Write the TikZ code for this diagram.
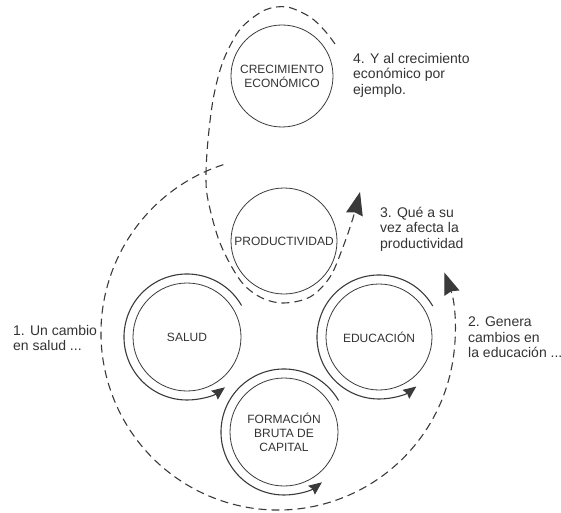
\documentclass[tikz,border=0pt]{standalone}
\usepackage{fontspec}
\setmainfont{Liberation Sans}
\usetikzlibrary{arrows.meta,calc}
\definecolor{ink}{HTML}{3A3A3A}
\definecolor{txt}{HTML}{333333}
\begin{document}
\begin{tikzpicture}[x=1pt,y=1pt,
  bubble/.style={circle,draw=ink,line width=0.8pt,minimum size=106pt,inner sep=0pt,align=center,text=txt,font=\fontsize{12}{14}\selectfont},
  ring/.style={draw=ink,line width=1.1pt,-{Stealth[length=13pt,width=11pt,inset=1.5pt]}},
  loopline/.style={draw=ink,line width=1.1pt,dash pattern=on 8pt off 5pt},
  lbl/.style={anchor=north west,inner sep=0pt,align=left,text=txt,font=\fontsize{14}{15.5}\selectfont}]
\useasboundingbox (0,0) rectangle (561,512);

% circles
\node[bubble,minimum size=102pt] (crec) at (282,436) {CRECIMIENTO\\ECONÓMICO};
\node[bubble] (prod) at (284,271) {PRODUCTIVIDAD};
\node[bubble,minimum size=108pt] (salud) at (187,175) {SALUD};
\node[bubble] (educ) at (379,175) {EDUCACIÓN};
\node[bubble,minimum size=108pt] (form) at (284,80) {FORMACIÓN\\BRUTA DE\\CAPITAL};

% rings with arrows
\draw[ring] (salud.center) ++(30:63pt) arc[start angle=30,end angle=307,radius=63pt];
\draw[ring] (educ.center) ++(30:62pt) arc[start angle=30,end angle=307,radius=62pt];
\draw[ring] (form.center) ++(30:63pt) arc[start angle=30,end angle=307,radius=63pt];

% big dashed loop (1 -> 2)
\coordinate (hub) at (278,179);
\draw[loopline,-{Stealth[length=22pt,width=16pt,inset=2pt]}] (hub) ++(108:177pt) arc[start angle=108,end angle=380,radius=177pt];

% dashed loop around productividad and crecimiento (3 -> 4)
\coordinate (topend) at (335,468);
\coordinate (prodtip) at (360,320);
\draw[loopline,-{Stealth[length=23pt,width=17pt,inset=2pt]}] plot[smooth,tension=0.55] coordinates {
 (topend) (325,481) (310,495) (287,505) (265,502) (243,486) (231,468) (221,445) (213,412)
 (208,372) (206,337) (208,312) (220,269) (240,232) (260,215) (283,209) (310,215) (330,235)
 (343,265) (353,294) (prodtip)};

% labels
\node[lbl] (l4) at (353,459.2) {4. Y al crecimiento\\económico por\\ejemplo.};
\node[lbl] (l3) at (380,305.2) {3. Qué a su\\vez afecta la\\productividad};
\node[lbl] (l2) at (468,195.2) {2. Genera\\cambios en\\la educación ...};
\node[lbl] (l1) at (13,187.2) {1. Un cambio\\en salud ...};
\end{tikzpicture}
\end{document}
